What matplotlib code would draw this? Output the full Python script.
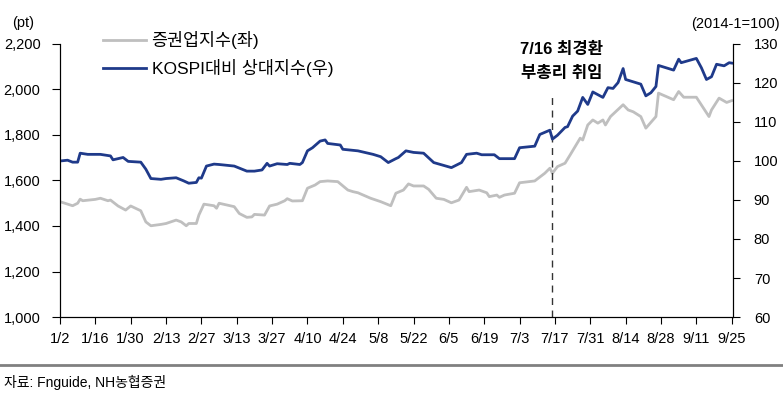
import matplotlib
matplotlib.use("Agg")
import matplotlib.pyplot as plt
import pandas as pd
from matplotlib.lines import Line2D

plt.rcParams["font.family"] = ["Liberation Sans", "Noto Sans CJK KR"]

YEAR = "2014"

# 증권업지수 (left axis, pt)
gray_dates = ["1/2", "1/7", "1/9", "1/10", "1/11", "1/16", "1/18", "1/21", "1/22", "1/25",
              "1/28", "1/30", "2/3", "2/5", "2/7", "2/11", "2/13", "2/17", "2/19", "2/21",
              "2/22", "2/25", "2/26", "2/28", "3/4", "3/5", "3/6", "3/12", "3/14", "3/17",
              "3/19", "3/20", "3/24", "3/26", "3/29", "4/1", "4/2", "4/4", "4/8", "4/10",
              "4/13", "4/15", "4/18", "4/22", "4/26", "4/28", "4/30", "5/5", "5/9", "5/13",
              "5/15", "5/18", "5/20", "5/22", "5/26", "5/28", "5/31", "6/3", "6/6", "6/9",
              "6/12", "6/13", "6/17", "6/20", "6/21", "6/24", "6/25", "6/27", "7/1", "7/3",
              "7/9", "7/13", "7/15", "7/16", "7/18", "7/21", "7/23", "7/27", "7/28", "7/30",
              "8/1", "8/3", "8/5", "8/6", "8/8", "8/13", "8/15", "8/17", "8/20", "8/22",
              "8/26", "8/27", "9/2", "9/4", "9/6", "9/11", "9/16", "9/17", "9/20", "9/23",
              "9/25"]
gray_vals = [1507, 1489, 1500, 1518, 1511, 1517, 1522, 1511, 1514, 1488,
             1470, 1488, 1467, 1418, 1401, 1407, 1411, 1426, 1418, 1401,
             1411, 1411, 1448, 1496, 1489, 1478, 1500, 1485, 1455, 1438,
             1440, 1451, 1448, 1488, 1496, 1511, 1520, 1510, 1511, 1566,
             1580, 1595, 1598, 1595, 1558, 1551, 1546, 1522, 1507, 1489,
             1544, 1558, 1585, 1576, 1576, 1561, 1522, 1517, 1502, 1514,
             1570, 1551, 1558, 1546, 1529, 1536, 1526, 1536, 1544, 1590,
             1598, 1632, 1654, 1632, 1661, 1676, 1712, 1786, 1778, 1844,
             1866, 1852, 1866, 1844, 1881, 1933, 1910, 1902, 1881, 1830,
             1881, 1984, 1955, 1991, 1966, 1966, 1881, 1910, 1962, 1943,
             1951]

# KOSPI대비 상대지수 (right axis, 2014-1=100)
blue_dates = ["1/2", "1/5", "1/7", "1/9", "1/10", "1/13", "1/18", "1/22", "1/23", "1/27",
              "1/29", "2/3", "2/5", "2/7", "2/11", "2/13", "2/17", "2/20", "2/22", "2/25",
              "2/26", "2/27", "3/1", "3/4", "3/6", "3/12", "3/17", "3/20", "3/23", "3/25",
              "3/26", "3/29", "4/2", "4/3", "4/7", "4/8", "4/10", "4/12", "4/15", "4/17",
              "4/18", "4/23", "4/24", "4/30", "5/6", "5/9", "5/12", "5/15", "5/16", "5/19",
              "5/22", "5/26", "5/30", "6/6", "6/10", "6/12", "6/16", "6/18", "6/23", "6/25",
              "7/1", "7/3", "7/9", "7/11", "7/15", "7/16", "7/18", "7/21", "7/22", "7/24",
              "7/26", "7/28", "7/30", "8/1", "8/5", "8/7", "8/9", "8/11", "8/13", "8/14",
              "8/17", "8/20", "8/22", "8/24", "8/26", "8/27", "8/30", "9/2", "9/4", "9/5",
              "9/11", "9/13", "9/15", "9/17", "9/19", "9/22", "9/24", "9/25"]
blue_vals = [100.0, 100.2, 99.7, 99.7, 102.0, 101.7, 101.7, 101.3, 100.3, 100.9,
             99.9, 99.7, 97.9, 95.5, 95.3, 95.5, 95.7, 94.9, 94.3, 94.5,
             95.7, 95.6, 98.7, 99.2, 99.1, 98.7, 97.4, 97.4, 97.7, 99.4,
             98.7, 99.3, 99.1, 99.4, 99.1, 99.6, 102.6, 103.4, 105.1, 105.4,
             104.5, 104.1, 103.0, 102.6, 101.7, 101.1, 99.6, 100.6, 100.9, 102.6,
             102.2, 102.0, 99.6, 98.3, 99.6, 101.7, 102.0, 101.6, 101.6, 100.6,
             100.6, 103.4, 103.8, 106.8, 107.9, 105.6, 106.6, 108.6, 108.8, 111.5,
             112.8, 116.3, 114.5, 117.7, 116.3, 118.8, 118.6, 120.1, 123.7, 120.9,
             120.3, 119.7, 116.7, 117.5, 119.1, 124.5, 123.9, 123.3, 126.1, 125.2,
             126.3, 123.9, 120.9, 121.6, 124.8, 124.4, 125.2, 125.1]

tick_labels = ["1/2", "1/16", "1/30", "2/13", "2/27", "3/13", "3/27", "4/10", "4/24", "5/8",
               "5/22", "6/5", "6/19", "7/3", "7/17", "7/31", "8/14", "8/28", "9/11", "9/25"]
event_date = "7/16"


def to_dt(items):
    return pd.to_datetime([f"{YEAR}/{s}" for s in items], format="%Y/%m/%d")


gx = to_dt(gray_dates)
bx = to_dt(blue_dates)
ticks = to_dt(tick_labels)
event = to_dt([event_date])[0]

GRAY = "#bfbfbf"
BLUE = "#1f3a8a"

fig = plt.figure(figsize=(7.83, 3.98), dpi=100)
ax = fig.add_axes([0.0766, 0.2035, 0.8595, 0.686])
ax2 = ax.twinx()

ax.plot(gx, gray_vals, color=GRAY, lw=2.0)
ax2.plot(bx, blue_vals, color=BLUE, lw=2.0)
ax.axvline(event, ymin=0, ymax=0.82, color="#333333", lw=1.0, ls=(0, (5, 4)))

ax.set_xlim(ticks[0], ticks[-1] + pd.Timedelta(hours=12))
ax.set_ylim(1000, 2200)
ax.set_yticks(range(1000, 2201, 200))
ax.set_yticklabels([f"{v:,}" for v in range(1000, 2201, 200)])
ax2.set_ylim(60, 130)
ax2.set_yticks(range(60, 131, 10))
ax.set_xticks(ticks)
ax.set_xticklabels(tick_labels)

for a in (ax, ax2):
    a.spines["top"].set_visible(False)
    a.tick_params(axis="both", labelsize=10.5, length=5, width=0.8, colors="black")
ax.tick_params(axis="x", pad=6)
ax.tick_params(axis="y", length=6, pad=8)
ax2.tick_params(axis="y", pad=10)

ax.text(-0.055, 1.077, "(pt)", transform=ax.transAxes, fontsize=10.5, ha="center", va="center")
ax.text(1.07, 1.072, "(2014-1=100)", transform=ax.transAxes, fontsize=10.5, ha="right", va="center")

# 7/16 annotation
ax.annotate("7/16 최경환\n부총리 취임", xy=(event, 0.935), xycoords=("data", "axes fraction"),
            xytext=(9, 0), textcoords="offset pixels", fontsize=12, fontweight="bold",
            ha="center", va="center", linespacing=1.72)

handles = [Line2D([], [], color=GRAY, lw=2.0), Line2D([], [], color=BLUE, lw=2.0)]
fig.legend(handles, ["증권업지수(좌)", "KOSPI대비 상대지수(우)"], loc="upper left",
           bbox_to_anchor=(0.1315, 0.922), frameon=False, fontsize=12.5,
           borderpad=0, borderaxespad=0,
           handlelength=2.5, handletextpad=0.3, labelspacing=0.58)

fig.add_artist(Line2D([0, 1], [0.083, 0.083], color="#808080", lw=2.0, transform=fig.transFigure))
fig.text(0.005, 0.038, "자료: Fnguide, NH농협증권", fontsize=10, ha="left", va="center")

fig.savefig("out.png", dpi=100)
